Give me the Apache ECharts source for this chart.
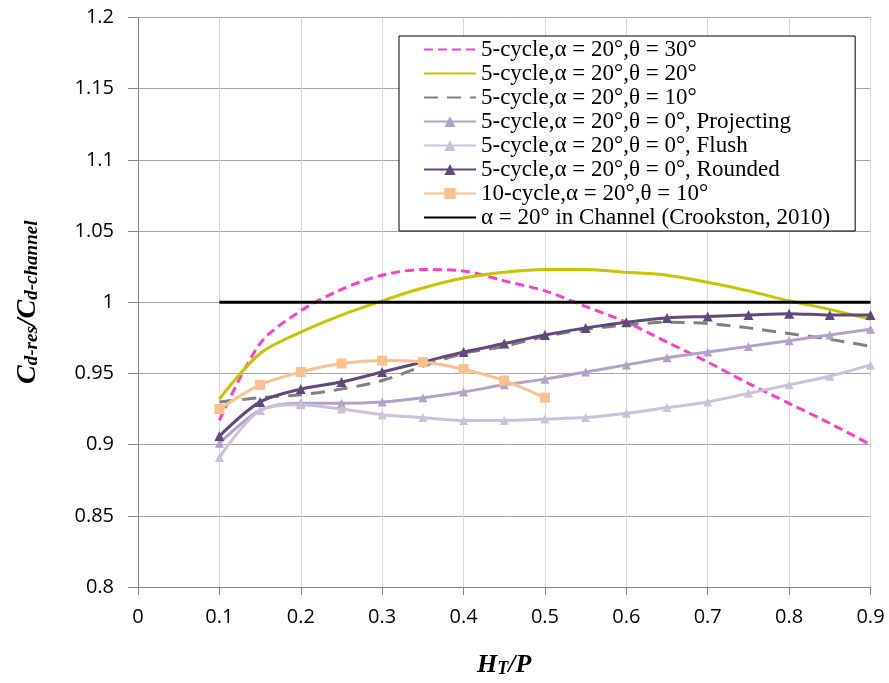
<!DOCTYPE html>
<html><head><meta charset="utf-8">
<script src="https://cdn.jsdelivr.net/npm/echarts@6/dist/echarts.min.js"></script>
<style>html,body{margin:0;padding:0;background:#fff}#c{width:889px;height:683px}</style>
</head><body><div id="c"></div>
<script>
const xs = [0.1,0.15,0.2,0.25,0.3,0.35,0.4,0.45,0.5,0.55,0.6,0.65,0.7,0.75,0.8,0.85,0.9];
const theta30 = [0.917,0.971,0.994,1.009,1.019,1.023,1.022,1.015,1.008,0.997,0.986,0.972,0.958,0.943,0.929,0.915,0.900];
const theta20 = [0.932,0.964,0.979,0.991,1.001,1.010,1.017,1.021,1.023,1.023,1.021,1.019,1.014,1.008,1.001,0.995,0.988];
const theta10 = [0.930,0.933,0.935,0.939,0.945,0.955,0.964,0.969,0.976,0.981,0.984,0.986,0.985,0.982,0.978,0.974,0.969];
const projecting = [0.901,0.924,0.929,0.929,0.930,0.933,0.937,0.942,0.946,0.951,0.956,0.961,0.965,0.969,0.973,0.977,0.981];
const flush = [0.891,0.924,0.928,0.925,0.921,0.919,0.917,0.917,0.918,0.919,0.922,0.926,0.930,0.936,0.942,0.948,0.956];
const rounded = [0.906,0.930,0.939,0.944,0.951,0.958,0.965,0.971,0.977,0.982,0.986,0.989,0.990,0.991,0.992,0.991,0.991];
const xs10 = [0.1,0.15,0.2,0.25,0.3,0.35,0.4,0.45,0.5];
const cycle10 = [0.925,0.942,0.951,0.957,0.959,0.958,0.953,0.945,0.933];
const channelX = [0.1,0.9];
const channelY = [1,1];
const names = ['5-cycle,α = 20°,θ = 30°','5-cycle,α = 20°,θ = 20°','5-cycle,α = 20°,θ = 10°','5-cycle,α = 20°,θ = 0°, Projecting','5-cycle,α = 20°,θ = 0°, Flush','5-cycle,α = 20°,θ = 0°, Rounded','10-cycle,α = 20°,θ = 10°','α = 20° in Channel (Crookston, 2010)'];
const noMarker = [true,true,true,false,false,false,false,true];

const pair = (x,y)=>x.map((v,i)=>[v,y[i]]);
const serif = 'Liberation Serif';
function ser(name, x, y, color, extra){
  return Object.assign({name, type:'line', data:pair(x,y), smooth:0.3, symbol:'none', showSymbol:true,
    lineStyle:{color, width:3}, itemStyle:{color}, emphasis:{disabled:true}, z:2}, extra||{});
}
const legendData = names.map((n,i)=> noMarker[i] ? {name:n, itemStyle:{opacity:0}} : {name:n});
const chart = echarts.init(document.getElementById('c'), null, {renderer:'canvas'});
chart.setOption({
  animation:false,
  grid:{left:138, right:18.5, top:17.5, bottom:91.5},
  legend:{orient:'vertical', left:399, top:36, padding:[2,25,2,24], itemWidth:52, itemHeight:14, itemGap:1,
    borderColor:'#000', borderWidth:1, backgroundColor:'#fff',
    textStyle:{fontFamily:serif, fontSize:23, color:'#000', lineHeight:22}, data:legendData},
  xAxis:{type:'value', min:0, max:0.9, interval:0.1,
    axisLine:{lineStyle:{color:'#868686'}}, axisTick:{show:true, length:8, lineStyle:{color:'#868686'}},
    splitLine:{lineStyle:{color:'#d9d9d9'}},
    axisLabel:{fontFamily:'Open Sans', fontSize:20, color:'#000', margin:20, formatter:v=>String(+v.toFixed(2))},
    name:'{m|H}{s|T}{m|/P}', nameLocation:'middle', nameGap:63,
    nameTextStyle:{rich:{m:{fontFamily:serif, fontSize:26, fontWeight:'bold', fontStyle:'italic', color:'#000', verticalAlign:'bottom', lineHeight:28},
      s:{fontFamily:serif, fontSize:18, fontWeight:'bold', fontStyle:'italic', color:'#000', padding:[10,0,0,0], verticalAlign:'bottom', lineHeight:20}}}},
  yAxis:{type:'value', min:0.8, max:1.2, interval:0.05,
    axisLine:{show:true, lineStyle:{color:'#868686'}}, axisTick:{show:true, length:10, lineStyle:{color:'#868686'}},
    splitLine:{lineStyle:{color:'#a6a6a6'}},
    axisLabel:{fontFamily:'Open Sans', fontSize:20, color:'#000', margin:24, formatter:v=>String(+v.toFixed(2))},
    name:'{m|C}{s|d-res}{m|/C}{s|d-channel}', nameLocation:'middle', nameRotate:90, nameGap:96,
    nameTextStyle:{rich:{m:{fontFamily:serif, fontSize:28, fontWeight:'bold', fontStyle:'italic', color:'#000', verticalAlign:'bottom', lineHeight:30},
      s:{fontFamily:serif, fontSize:19, fontWeight:'bold', fontStyle:'italic', color:'#000', padding:[10,0,0,0], verticalAlign:'bottom', lineHeight:20}}}},
  series:[
    ser(names[0], xs, theta30, '#ff3fc9', {lineStyle:{color:'#ff3fc9', width:3, type:[9,5]}}),
    ser(names[1], xs, theta20, '#c8c400'),
    ser(names[2], xs, theta10, '#808080', {lineStyle:{color:'#808080', width:3, type:[14,9]}}),
    ser(names[3], xs, projecting, '#b3a2c7', {symbol:'triangle', symbolSize:9}),
    ser(names[4], xs, flush, '#ccc1da', {symbol:'triangle', symbolSize:9}),
    ser(names[5], xs, rounded, '#604a7b', {symbol:'triangle', symbolSize:10}),
    ser(names[6], xs10, cycle10, '#fac090', {symbol:'rect', symbolSize:10}),
    ser(names[7], channelX, channelY, '#000000', {smooth:false})
  ]
});
</script></body></html>
